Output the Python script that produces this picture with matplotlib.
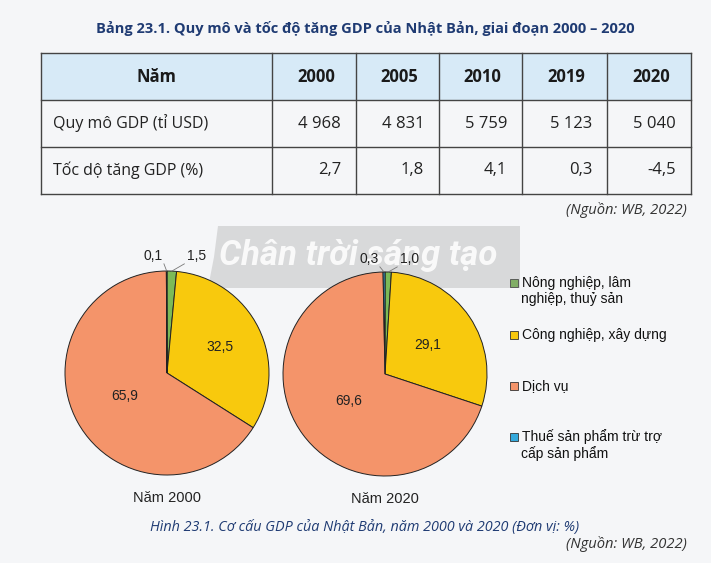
import matplotlib
matplotlib.use('Agg')
from matplotlib import pyplot as plt
from matplotlib.patches import Rectangle, Polygon
import numpy as np

# Table data
table_title = 'Bảng 23.1. Quy mô và tốc độ tăng GDP của Nhật Bản, giai đoạn 2000 – 2020'
years = ['2000', '2005', '2010', '2019', '2020']
row_names = ['Quy mô GDP (tỉ USD)', 'Tốc dộ tăng GDP (%)']
gdp_size = ['4 968', '4 831', '5 759', '5 123', '5 040']
gdp_growth = ['2,7', '1,8', '4,1', '0,3', '-4,5']

# Pie data
sectors = ['Nông nghiệp, lâm\nnghiệp, thuỷ sản', 'Công nghiệp, xây dựng',
           'Dịch vụ', 'Thuế sản phẩm trừ trợ\ncấp sản phẩm']
share_2000 = [1.5, 32.5, 65.9, 0.1]
share_2020 = [1.0, 29.1, 69.6, 0.3]
pie_titles = ['Năm 2000', 'Năm 2020']
colors = ['#7cba57', '#f8c90d', '#f4946a', '#34a9dc']

BG = '#f5f6f8'
NAVY = '#1f3b73'
BOOK = ['Open Sans', 'DejaVu Sans']
ARIAL = ['Liberation Sans', 'DejaVu Sans']

fig = plt.figure(figsize=(7.11, 5.63), dpi=100, facecolor=BG)
ax = fig.add_axes([0, 0, 1, 1])
ax.set_xlim(0, 711)
ax.set_ylim(563, 0)
ax.axis('off')

# title
ax.text(365, 29, table_title, ha='center', va='center', fontsize=10.5,
        fontweight='bold', color=NAVY, family=BOOK)

# table grid
col_x = [41, 272, 356, 439, 522, 607, 691]
row_y = [53, 100, 147, 194]
ax.add_patch(Rectangle((col_x[0], row_y[0]), col_x[-1] - col_x[0], row_y[1] - row_y[0],
                       facecolor='#d7eaf7', edgecolor='none', zorder=1))
for x in col_x:
    ax.plot([x, x], [row_y[0], row_y[-1]], color='#444444', lw=1.0, zorder=2)
for y in row_y:
    ax.plot([col_x[0], col_x[-1]], [y, y], color='#444444', lw=1.0, zorder=2)

ax.text((col_x[0] + col_x[1]) / 2, (row_y[0] + row_y[1]) / 2, 'Năm', ha='center', va='center',
        fontsize=12, fontweight='bold', color='#1a1a1a', family=BOOK, zorder=3)
for i, yr in enumerate(years):
    ax.text((col_x[i + 1] + col_x[i + 2]) / 2 + 2, (row_y[0] + row_y[1]) / 2 + 1, yr,
            ha='center', va='center', fontsize=12, fontweight='bold',
            color='#1a1a1a', family=BOOK, zorder=3)
for r, (name, vals) in enumerate(zip(row_names, [gdp_size, gdp_growth])):
    yc = (row_y[r + 1] + row_y[r + 2]) / 2
    ax.text(col_x[0] + 12, yc, name, ha='left', va='center', fontsize=11.5,
            color='#222222', family=BOOK, zorder=3)
    for i, v in enumerate(vals):
        ax.text(col_x[i + 2] - 15, yc, v, ha='right', va='center', fontsize=12,
                color='#222222', family=BOOK, zorder=3)

ax.text(687, 210, '(Nguồn: WB, 2022)', ha='right', va='center', fontsize=10.6,
        style='italic', color='#333333', family=BOOK)

# legend
leg_y = [[283, 299], [335], [386], [437, 454]]
for c, label, ys in zip(colors, sectors, leg_y):
    ax.add_patch(Rectangle((510, ys[0] - 4), 8, 8, facecolor=c, edgecolor='#333333', lw=0.6))
    for j, line in enumerate(label.split('\n')):
        ax.text(522 if j == 0 else 521, ys[j], line, ha='left', va='center', fontsize=10,
                color='#111111', family=ARIAL)

# captions
ax.text(150, 528, 'Hình 23.1. Cơ cấu GDP của Nhật Bản, năm 2000 và 2020 (Đơn vị: %)',
        ha='left', va='center', fontsize=10.35, style='italic', color=NAVY, family=BOOK)
ax.text(687, 544, '(Nguồn: WB, 2022)', ha='right', va='center', fontsize=10.6,
        style='italic', color='#333333', family=BOOK)


def fmt(v):
    return f'{v:.1f}'.replace('.', ',')


def draw_pie(cx, cy, r, shares, title, in_r, out_pos):
    pax = fig.add_axes([(cx - r) / 711, 1 - (cy + r) / 563, 2 * r / 711, 2 * r / 563])
    pax.set_facecolor('none')
    wedges, _ = pax.pie(shares, colors=colors, startangle=90, counterclock=False,
                        wedgeprops=dict(edgecolor='#222222', linewidth=0.7))
    pax.set_xlim(-1, 1)
    pax.set_ylim(-1, 1)
    pax.set_aspect('equal')
    pax.axis('off')
    for k, w in enumerate(wedges):
        mid = np.deg2rad((w.theta1 + w.theta2) / 2)
        if k in (1, 2):
            pax.text(in_r[k] * np.cos(mid), in_r[k] * np.sin(mid), fmt(shares[k]),
                     ha='center', va='center', fontsize=10, color='#222222', family=ARIAL)
        else:
            tx, ty = out_pos[k]
            x0, y0 = np.cos(mid), np.sin(mid)
            right = tx > x0
            lx = tx - 0.03 if right else tx + 0.01
            pax.plot([x0, lx], [y0, ty - 0.08], color='#777777', lw=0.6, clip_on=False)
            pax.text(tx, ty, fmt(shares[k]), ha='left' if right else 'right', va='center',
                     fontsize=10, color='#222222', family=ARIAL, clip_on=False)
    ax.text(cx, cy + 125, title, ha='center', va='center', fontsize=10.5,
            color='#222222', family=ARIAL)


draw_pie(167, 373, 102, share_2000, pie_titles[0],
         {1: 0.58, 2: 0.47}, {0: (0.2, 1.15), 3: (-0.04, 1.15)})
draw_pie(385, 374, 102, share_2020, pie_titles[1],
         {1: 0.5, 2: 0.44}, {0: (0.15, 1.13), 3: (-0.06, 1.13)})

# watermark banner
ax.add_patch(Polygon([[218, 226], [520, 226], [520, 288], [208, 288], [214, 257]],
                     closed=True, facecolor='#8f8f8f', alpha=0.28, edgecolor='none', zorder=10))
ax.text(358, 256, 'Chân trời sáng tạo', ha='center', va='center', fontsize=25,
        fontweight='bold', style='italic', color='white', alpha=0.85,
        family=['Roboto', 'DejaVu Sans'], zorder=11)

fig.savefig('out.png', dpi=100, facecolor=BG)
